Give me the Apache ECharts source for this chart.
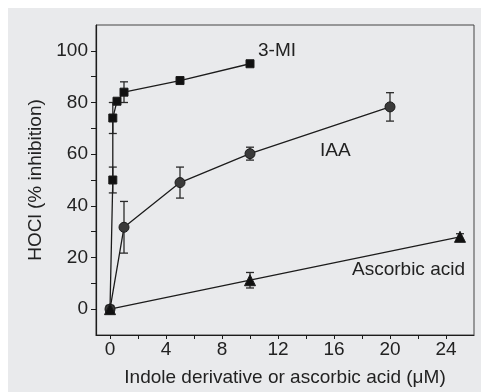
<!DOCTYPE html>
<html>
<head>
<meta charset="utf-8">
<script src="https://cdn.jsdelivr.net/npm/echarts@6/dist/echarts.min.js"></script>
<style>
  html, body { margin: 0; padding: 0; background: #fff; }
  #main { position: absolute; left: 8px; top: 8px; width: 473px; height: 384px; background: #e9eaec; }
</style>
</head>
<body>
<div id="main"></div>
<script>
// data
const miX = [0, 0.2, 0.2, 0.5, 1, 5, 10];
const miY = [0, 50, 74, 80.5, 84, 88.5, 95];
const miErr = [0, 5, 6, 0, 4, 0, 0];

const iaaX = [0, 1, 5, 10, 20];
const iaaY = [0, 31.7, 49, 60.2, 78.3];
const iaaErr = [0, 10, 6, 2.5, 5.5];

const ascX = [0, 10, 25];
const ascY = [0, 11.2, 28];
const ascErr = [0, 3, 1.2];

const xTickVals = [0, 2, 4, 6, 8, 10, 12, 14, 16, 18, 20, 22, 24];
const xLabelVals = [0, 4, 8, 12, 16, 20, 24];
const yTickVals = [0, 10, 20, 30, 40, 50, 60, 70, 80, 90, 100];
const yLabelVals = [0, 20, 40, 60, 80, 100];

const ink = "#1c1c1c";
const font = "Liberation Sans, Arial, sans-serif";

const pts = (xs, ys) => xs.map((x, i) => [x, ys[i]]);
const errs = (xs, ys, es) =>
  xs.map((x, i) => [x, ys[i] - es[i], ys[i] + es[i]]).filter((d, i) => es[i] > 0);

// vertical error bar with caps
function errorBar(params, api) {
  const x = api.value(0);
  const lo = api.coord([x, api.value(1)]);
  const hi = api.coord([x, api.value(2)]);
  const w = 4;
  const style = { stroke: "#2a2a2a", lineWidth: 1.3 };
  return {
    type: "group",
    children: [
      { type: "line", shape: { x1: lo[0], y1: lo[1], x2: hi[0], y2: hi[1] }, style },
      { type: "line", shape: { x1: lo[0] - w, y1: lo[1], x2: lo[0] + w, y2: lo[1] }, style },
      { type: "line", shape: { x1: hi[0] - w, y1: hi[1], x2: hi[0] + w, y2: hi[1] }, style },
    ],
  };
}

const chart = echarts.init(document.getElementById("main"));

const lineSeries = (name, data, symbol, size, color) => ({
  name,
  type: "line",
  data,
  symbol,
  symbolSize: size,
  z: 3,
  lineStyle: { color: ink, width: 1.3 },
  itemStyle: { color, borderColor: ink, borderWidth: 1, opacity: 1 },
  animation: false,
});

const errSeries = (data) => ({
  type: "custom",
  renderItem: errorBar,
  data,
  z: 2,
  animation: false,
});

chart.setOption({
  backgroundColor: "#e9eaec",
  textStyle: { fontFamily: font },
  grid: {
    left: 88, top: 17, right: 7, bottom: 56,
    show: true, borderColor: "#444", borderWidth: 1,
  },
  xAxis: {
    type: "value",
    min: -1, max: 26,
    name: "Indole derivative or ascorbic acid (μM)",
    nameLocation: "middle",
    nameGap: 33,
    nameTextStyle: { fontSize: 19, color: "#222", fontFamily: font },
    splitLine: { show: false },
    axisLine: { onZero: false, lineStyle: { color: ink, width: 1.2 } },
    axisTick: { customValues: xTickVals, length: 4, lineStyle: { color: ink } },
    axisLabel: { customValues: xLabelVals, fontSize: 19, color: "#222", margin: 5, fontFamily: font },
  },
  yAxis: {
    type: "value",
    min: -10, max: 110,
    name: "HOCl (% inhibition)",
    nameLocation: "middle",
    nameGap: 45,
    nameTextStyle: { fontSize: 19, color: "#222", fontFamily: font },
    splitLine: { show: false },
    axisLine: { onZero: false, lineStyle: { color: ink, width: 1.2 } },
    axisTick: { customValues: yTickVals, length: 5, lineStyle: { color: ink } },
    axisLabel: { customValues: yLabelVals, fontSize: 19, color: "#222", margin: 8, fontFamily: font },
  },
  graphic: [
    { type: "text", left: 250, top: 33, style: { text: "3-MI", fontSize: 19, fill: "#222", fontFamily: font } },
    { type: "text", left: 312, top: 133, style: { text: "IAA", fontSize: 19, fill: "#222", fontFamily: font } },
    { type: "text", left: 344, top: 252, style: { text: "Ascorbic acid", fontSize: 19, fill: "#222", fontFamily: font } },
  ],
  series: [
    errSeries(errs(miX, miY, miErr)),
    errSeries(errs(iaaX, iaaY, iaaErr)),
    errSeries(errs(ascX, ascY, ascErr)),
    lineSeries("3-MI", pts(miX, miY), "rect", 8, "#111"),
    lineSeries("IAA", pts(iaaX, iaaY), "circle", 10, "#3a3a3a"),
    lineSeries("Ascorbic acid", pts(ascX, ascY), "triangle", 11, "#111"),
  ],
});
</script>
</body>
</html>
